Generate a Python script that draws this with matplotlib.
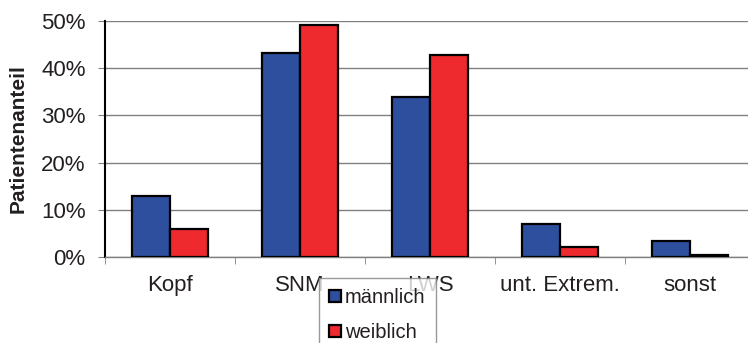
import numpy as np
import matplotlib
matplotlib.use("Agg")
import matplotlib.pyplot as plt

plt.rcParams["font.family"] = ["Liberation Sans", "DejaVu Sans"]

categories = ["Kopf", "SNM", "LWS", "unt. Extrem.", "sonst"]
maennlich = [12.9, 43.3, 34.0, 7.0, 3.4]
weiblich = [6.0, 49.1, 42.7, 2.1, 0.5]
series_names = ["männlich", "weiblich"]

blue = "#2e4f9e"
red = "#ee2a2e"
grid = "#808080"
txt = "#231f20"

fig = plt.figure(figsize=(7.48, 3.43), dpi=100)
# right edge of plot area lies slightly beyond the picture, as in the original
ax = fig.add_axes([105 / 748, 1 - 257 / 343, 650 / 748, 236 / 343])

x = np.arange(len(categories))
w = 0.29
ax.bar(x - w / 2, maennlich, w, color=blue, edgecolor="black", linewidth=1.6,
       label=series_names[0], zorder=3)
ax.bar(x + w / 2, weiblich, w, color=red, edgecolor="black", linewidth=1.6,
       label=series_names[1], zorder=3)

ax.set_xlim(-0.5, len(categories) - 0.5)
ax.set_ylim(0, 50)
ax.set_yticks(np.arange(0, 51, 10))
ax.set_yticklabels([f"{v}%" for v in range(0, 51, 10)], fontsize=16, color=txt)
ax.yaxis.grid(True, color=grid, linewidth=1)
ax.set_axisbelow(True)

ax.set_xticks(x)
ax.set_xticklabels(categories, fontsize=16, color=txt)
ax.set_xticks(np.arange(-0.5, len(categories), 1), minor=True)
ax.tick_params(axis="x", which="major", length=0, pad=13)
ax.tick_params(axis="x", which="minor", length=5, color=grid)
ax.tick_params(axis="y", length=5, color=grid, pad=9)

for s in ["top", "right"]:
    ax.spines[s].set_visible(False)
ax.spines["left"].set_color("black")
ax.spines["left"].set_linewidth(1.5)
ax.spines["bottom"].set_color(grid)
ax.spines["bottom"].set_linewidth(1)

ax.set_ylabel("Patientenanteil", fontsize=15, fontweight="bold", color=txt)
ax.yaxis.set_label_coords(-77 / 650, 0.5)

leg = fig.legend(loc="upper left", bbox_to_anchor=(319 / 748, 1 - 278 / 343),
                 fontsize=14.5, frameon=True, fancybox=False, handlelength=0.6,
                 handleheight=0.6, handletextpad=0.2, labelspacing=0.8,
                 borderpad=0.5, borderaxespad=0)
leg.get_frame().set_edgecolor(grid)
leg.get_frame().set_linewidth(1)
for t in leg.get_texts():
    t.set_color(txt)

fig.savefig("out.png", dpi=100)
